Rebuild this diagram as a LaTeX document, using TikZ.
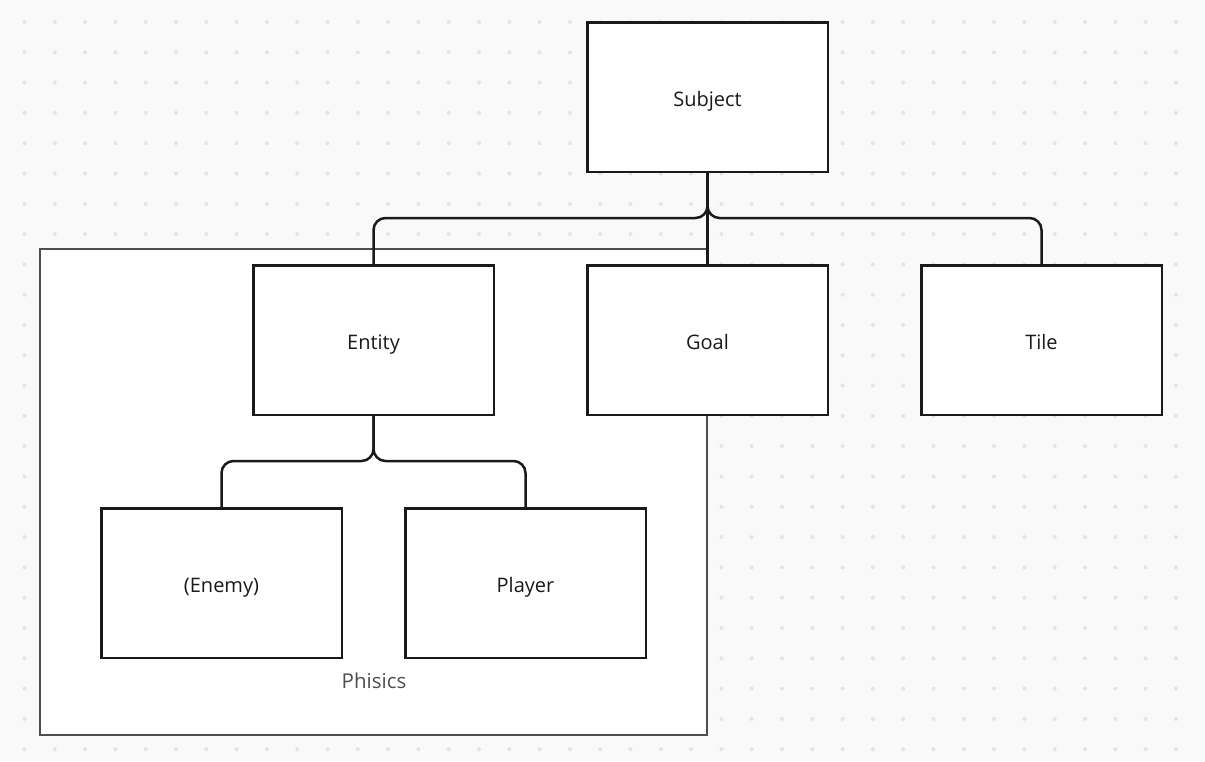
\documentclass[tikz,border=0pt]{standalone}
\usepackage{fontspec}
\setmainfont{Open Sans}
\usetikzlibrary{positioning}

\definecolor{boardbg}{RGB}{249,249,250}
\definecolor{boarddot}{RGB}{228,228,231}
\definecolor{inkblack}{RGB}{26,26,26}
\definecolor{framegray}{RGB}{78,78,78}

\tikzset{
    classbox/.style={draw=inkblack, line width=2.5pt, fill=white, minimum width=240.5pt,
        minimum height=149.5pt, inner sep=0pt, font=\fontsize{20}{24}\selectfont, text=inkblack,
        text height=18.6pt, text depth=0pt},
    conn/.style={draw=inkblack, line width=2.5pt, rounded corners=12pt},
}

\begin{document}
\begin{tikzpicture}[x=1pt, y=-1pt]
    % Board with dot grid
    \fill [boardbg] (0,0) rectangle (1205,761);
    \useasboundingbox (0,0) rectangle (1205,761);
    \foreach \i in {0,...,38} {
        \foreach \j in {0,...,24} {
            \fill [boarddot] (24.5+30.3*\i, 22+30.3*\j) circle (2pt);
        }
    }
    % Phisics frame
    \draw [framegray, line width=2pt, fill=white] (40,249) rectangle (707,735);
    \node [text=framegray, font=\fontsize{20.5}{24}\selectfont, anchor=base] (phisics) at (374,688) {Phisics};
    % Classes
    \node [classbox] (subject) at (707.5,97) {Subject};
    \node [classbox] (entity) at (373.5,340) {Entity};
    \node [classbox] (goal) at (707.5,340) {Goal};
    \node [classbox] (tile) at (1041.5,340) {Tile};
    \node [classbox] (enemy) at (221.5,583) {(Enemy)};
    \node [classbox] (player) at (525.5,583) {Player};
    % Inheritance lines
    \draw [conn] (subject.south) -- (goal.north);
    \draw [conn] (subject.south) -- ++(0,45) -| (entity.north);
    \draw [conn] (subject.south) -- ++(0,45) -| (tile.north);
    \draw [conn] (entity.south) -- ++(0,45) -| (enemy.north);
    \draw [conn] (entity.south) -- ++(0,45) -| (player.north);
\end{tikzpicture}
\end{document}
